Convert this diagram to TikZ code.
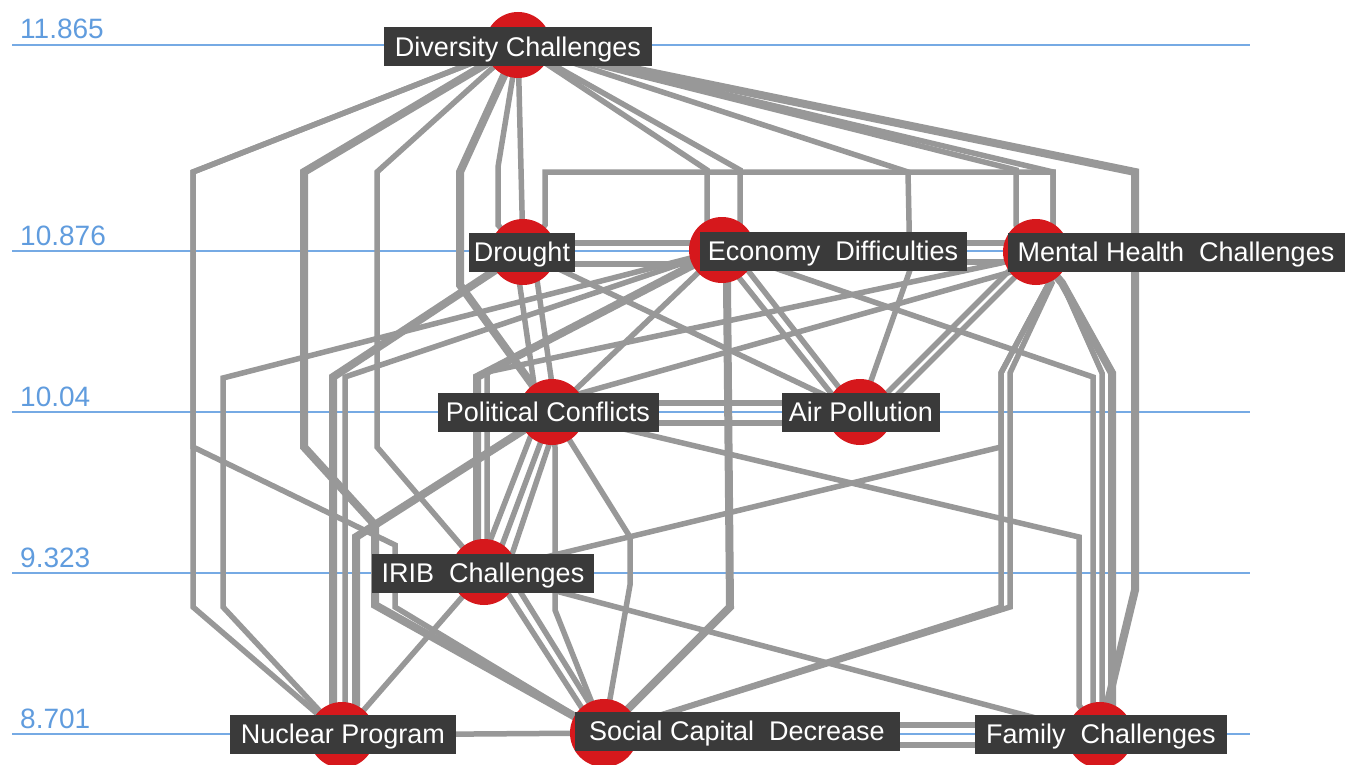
\documentclass[tikz,border=0pt]{standalone}
\usepackage{fontspec}
\setmainfont{Liberation Sans}
\usetikzlibrary{calc}
\definecolor{edgegray}{RGB}{152,152,152}
\definecolor{nodered}{RGB}{214,24,28}
\definecolor{boxgray}{RGB}{58,58,58}
\definecolor{levelblue}{RGB}{118,170,228}
\definecolor{leveltext}{RGB}{96,156,222}
\begin{document}
\begin{tikzpicture}[x=1pt,y=-1pt,
  e/.style={draw=edgegray,line width=5.5pt},
  ethick/.style={draw=edgegray,line width=8pt},
  lvl/.style={draw=levelblue,line width=1.8pt},
  lvltxt/.style={anchor=base west,inner sep=0pt,text=leveltext,font=\fontsize{28}{30}\selectfont},
  dot/.style={circle,fill=nodered,minimum size=66pt,inner sep=0pt},
  lbl/.style={fill=boxgray,text=white,inner sep=0pt,minimum height=39pt,text height=19.3pt,text depth=0pt,font=\fontsize{27}{30}\selectfont}
]
\useasboundingbox (0,0) rectangle (1360,765);
\fill[white] (0,0) rectangle (1360,765);

% node centres
\coordinate (div) at (518,45);
\coordinate (dro) at (523,252);
\coordinate (eco) at (722,250);
\coordinate (mh) at (1036,252);
\coordinate (pol) at (552,412);
\coordinate (air) at (860,412);
\coordinate (irib) at (484,572);
\coordinate (nuc) at (342,735);
\coordinate (soc) at (604,733);
\coordinate (fam) at (1100,735);

% level lines
\draw[lvl] (12,45) -- (1250,45);
\draw[lvl] (12,251) -- (1250,251);
\draw[lvl] (12,412) -- (1250,412);
\draw[lvl] (12,573) -- (1250,573);
\draw[lvl] (12,734) -- (1250,734);
\node[lvltxt] (l1) at (20,39) {11.865};
\node[lvltxt] (l2) at (20,245) {10.876};
\node[lvltxt] (l3) at (20,406) {10.04};
\node[lvltxt] (l4) at (20,567) {9.323};
\node[lvltxt] (l5) at (20,728) {8.701};

% Diversity fan
\draw[e] (div) -- (193,172) -- (193,607) -- (nuc);
\draw[e] (div) -- (193,172) -- (193,447) -- (395,545) -- (395,607) -- (soc);
\draw[ethick] (div) -- (304,172) -- (304,447) -- (375,525) -- (375,605) -- (soc);
\draw[e] (div) -- (377,172) -- (377,447) -- (irib);
\draw[ethick] (div) -- (460,172) -- (460,285) -- (pol);
\draw[e] (div) -- (498,167) -- (498,225) -- (dro);
\draw[e] (div) -- (dro);
\draw[e] (div) -- (707,170) -- (707,225) -- (eco);
\draw[e] (div) -- (740,170) -- (740,225) -- (eco);
\draw[e] (div) -- (908,172) -- (910,270) -- (air);
\draw[e] (div) -- (1016,170) -- (1016,225) -- (mh);
\draw[e] (div) -- (1053,172) -- (1053,230) -- (mh);
\draw[ethick] (div) -- (1135,172) -- (1135,590) -- (fam);
\draw[e] (dro) -- (545,225) -- (545,172) -- (1053,172) -- (1053,230) -- (mh);

% horizontal pairs
\draw[e] ($(dro)+(0,-9)$) -- ($(eco)+(0,-7)$);
\draw[e] ($(dro)+(0,12)$) -- ($(eco)+(0,14)$);
\draw[e] ($(eco)+(0,-7)$) -- ($(mh)+(0,-9)$);
\draw[e] ($(eco)+(0,12)$) -- ($(mh)+(0,10)$);
\draw[e] ($(pol)+(0,-9)$) -- ($(air)+(0,-9)$);
\draw[e] ($(pol)+(0,11)$) -- ($(air)+(0,11)$);
\draw[e] ($(soc)+(0,-8)$) -- ($(fam)+(0,-10)$);
\draw[e] ($(soc)+(0,12)$) -- ($(fam)+(0,10)$);
\draw[e] (nuc) -- (soc);

% Drought
\draw[e] ($(dro)+(-8,0)$) -- ($(pol)+(-14,0)$);
\draw[e] ($(dro)+(10,0)$) -- ($(pol)+(4,0)$);
\draw[e] (dro) -- (air);
\draw[ethick] (dro) -- (333,377) -- (333,705) -- (nuc);

% Economy
\draw[e] (eco) -- (345,377) -- (345,705) -- (nuc);
\draw[e] (eco) -- (223,378) -- (223,607) -- (nuc);
\draw[ethick] (eco) -- (477,377) -- (477,540) -- (irib);
\draw[e] (eco) -- (pol);
\draw[ethick] (eco) -- (727,282) -- (730,607) -- (soc);
\draw[e] ($(eco)+(-5,0)$) -- ($(air)+(-14,0)$);
\draw[e] ($(eco)+(10,0)$) -- ($(air)+(-2,0)$);
\draw[e] (eco) -- (1093,377) -- (1093,705) -- (fam);

% Mental Health
\draw[e] (mh) -- (1018,270) -- (575,395) -- (pol);
\draw[e] (mh) -- (1001,263) -- (487,372) -- (487,540) -- (irib);
\draw[e] ($(mh)+(-8,0)$) -- ($(air)+(8,0)$);
\draw[e] ($(mh)+(4,0)$) -- ($(air)+(20,0)$);
\draw[e] (mh) -- (1049,283) -- (1001,373) -- (1001,447) -- (irib);
\draw[e] (mh) -- (1049,283) -- (1001,373) -- (1001,607) -- (soc);
\draw[e] (mh) -- (1052,283) -- (1010,373) -- (1010,607) -- (soc);
\draw[ethick] (mh) -- (1062,283) -- (1112,373) -- (1112,705) -- (fam);
\draw[e] (mh) -- (1062,283) -- (1102,373) -- (1102,705) -- (fam);

% Political
\draw[ethick] (pol) -- (356,537) -- (356,705) -- (nuc);
\draw[e] ($(pol)+(-12,0)$) -- ($(irib)+(-6,0)$);
\draw[e] ($(pol)+(0,0)$) -- ($(irib)+(8,0)$);
\draw[e] ($(pol)+(8,0)$) -- ($(irib)+(22,0)$);
\draw[e] (pol) -- (555,447) -- (555,610) -- (soc);
\draw[e] (pol) -- (630,537) -- (630,585) -- (soc);
\draw[e] (pol) -- (1079,537) -- (1079,705) -- (fam);

% IRIB
\draw[e] (irib) -- (nuc);
\draw[e] ($(irib)+(10,0)$) -- ($(soc)+(-6,0)$);
\draw[e] ($(irib)+(24,0)$) -- ($(soc)+(4,0)$);
\draw[e] (irib) -- (fam);

% dots
\node[dot] (divc) at (div) {};
\node[dot] (droc) at (dro) {};
\node[dot] (ecoc) at (eco) {};
\node[dot] (mhc) at (mh) {};
\node[dot] (polc) at (pol) {};
\node[dot] (airc) at (air) {};
\node[dot] (iribc) at (irib) {};
\node[dot] (nucc) at (nuc) {};
\node[dot,minimum size=68pt] (socc) at (soc) {};
\node[dot] (famc) at (fam) {};

% labels
\node[lbl,minimum width=268pt] (divl) at (518,47) {Diversity Challenges};
\node[lbl,minimum width=106pt] (drol) at (522,252) {Drought};
\node[lbl,minimum width=267pt] (ecol) at (833,251) {Economy\ \ Difficulties};
\node[lbl,minimum width=337pt] (mhl) at (1176,252) {Mental Health\ \ Challenges};
\node[lbl,minimum width=221pt] (poll) at (548,412) {Political Conflicts};
\node[lbl,minimum width=158pt] (airl) at (861,412) {Air Pollution};
\node[lbl,minimum width=222pt] (iribl) at (483,573) {IRIB\ \ Challenges};
\node[lbl,minimum width=226pt] (nucl) at (343,734) {Nuclear Program};
\node[lbl,minimum width=325pt] (socl) at (737,731) {Social Capital\ \ Decrease};
\node[lbl,minimum width=252pt] (faml) at (1101,734) {Family\ \ Challenges};
\end{tikzpicture}
\end{document}
